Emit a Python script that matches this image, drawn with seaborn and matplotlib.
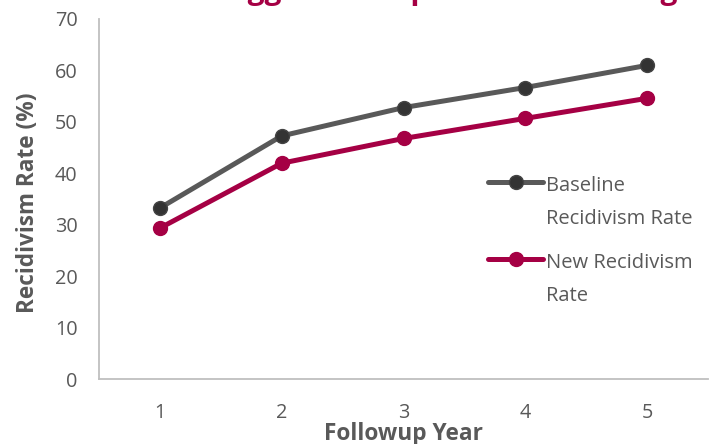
import matplotlib
matplotlib.use("Agg")
import matplotlib.pyplot as plt
import seaborn as sns
import pandas as pd
import numpy as np
from matplotlib.legend_handler import HandlerLine2D

years = [1, 2, 3, 4, 5]
baseline_rate = [33.2, 47.2, 52.7, 56.6, 60.9]
new_rate = [29.3, 41.9, 46.7, 50.6, 54.5]
series_names = ["Baseline\nRecidivism Rate", "New Recidivism\nRate"]
title_text = "The Suggested Impact of Mentoring"
x_label = "Followup Year"
y_label = "Recidivism Rate (%)"
y_ticks = [0, 10, 20, 30, 40, 50, 60, 70]

df = pd.DataFrame({
    "year": years * 2,
    "rate": baseline_rate + new_rate,
    "series": [series_names[0]] * len(years) + [series_names[1]] * len(years),
})

sns.set_theme(style="white")
plt.rcParams["font.family"] = ["Open Sans", "DejaVu Sans"]

GRAY = "#595959"
RED = "#A50044"

fig = plt.figure(figsize=(7.16, 4.44), dpi=100)
ax = fig.add_axes([99 / 716, 1 - 379 / 444, 609 / 716, 360.5 / 444])

sns.lineplot(data=df, x="year", y="rate", hue="series",
             palette=[GRAY, RED], ax=ax, linewidth=3.6, marker="o",
             markersize=10, legend=False)
lines = ax.get_lines()
lines[0].set_markerfacecolor("#333333")
lines[0].set_markeredgecolor("#444444")
lines[1].set_markerfacecolor(RED)
lines[1].set_markeredgecolor(RED)
for l in lines:
    l.set_markeredgewidth(1.0)

ax.set_xlim(0.5, 5.5)
ax.set_ylim(0, 70)
ax.set_xticks(years)
ax.set_yticks(y_ticks)
ax.tick_params(axis="both", length=0, labelsize=14.3, labelcolor=GRAY)
ax.tick_params(axis="y", pad=15.5)
ax.tick_params(axis="x", pad=17)
for s in ["top", "right"]:
    ax.spines[s].set_visible(False)
for s in ["left", "bottom"]:
    ax.spines[s].set_color("#BFBFBF")
    ax.spines[s].set_linewidth(1.3)

ax.set_xlabel(x_label, fontsize=16.3, fontweight="bold", color=GRAY)
ax.set_ylabel(y_label, fontsize=16.3, fontweight="bold", color=GRAY)
ax.xaxis.set_label_coords(0.5, -0.12)
ax.xaxis.label.set_va("top")
ax.yaxis.set_label_coords(-0.097, 0.49)


class FirstLineHandler(HandlerLine2D):
    def __init__(self, offset, **kw):
        super().__init__(**kw)
        self.offset = offset

    def create_artists(self, legend, orig_handle, xdescent, ydescent, width,
                       height, fontsize, trans):
        arts = super().create_artists(legend, orig_handle, xdescent, ydescent,
                                      width, height, fontsize, trans)
        for a in arts:
            a.set_ydata(np.asarray(a.get_ydata()) + self.offset)
        return arts


handler = FirstLineHandler(offset=14.8, numpoints=1)
leg = ax.legend(lines, series_names, loc="upper left",
                bbox_to_anchor=(488 / 716, 1 - 176 / 444),
                bbox_transform=fig.transFigure, frameon=False,
                fontsize=14.5, handlelength=2.75, handletextpad=0.15,
                labelspacing=1.2, borderpad=0, borderaxespad=0,
                handler_map={l: handler for l in lines})
for t in leg.get_texts():
    t.set_color(GRAY)
    t.set_linespacing(1.85)

# title, mostly above the visible area (as in the reference)
fig.canvas.draw()
r = fig.canvas.get_renderer()
probe = fig.text(0, 0, "The Su", fontsize=21.5, fontweight="bold")
w = probe.get_window_extent(renderer=r).width
probe.remove()
fig.text((248 - w) / 716, 1 + 0.5 / 444, title_text, fontsize=21.5,
         fontweight="bold", color=RED, ha="left", va="baseline")

fig.savefig("out.png", dpi=100)
